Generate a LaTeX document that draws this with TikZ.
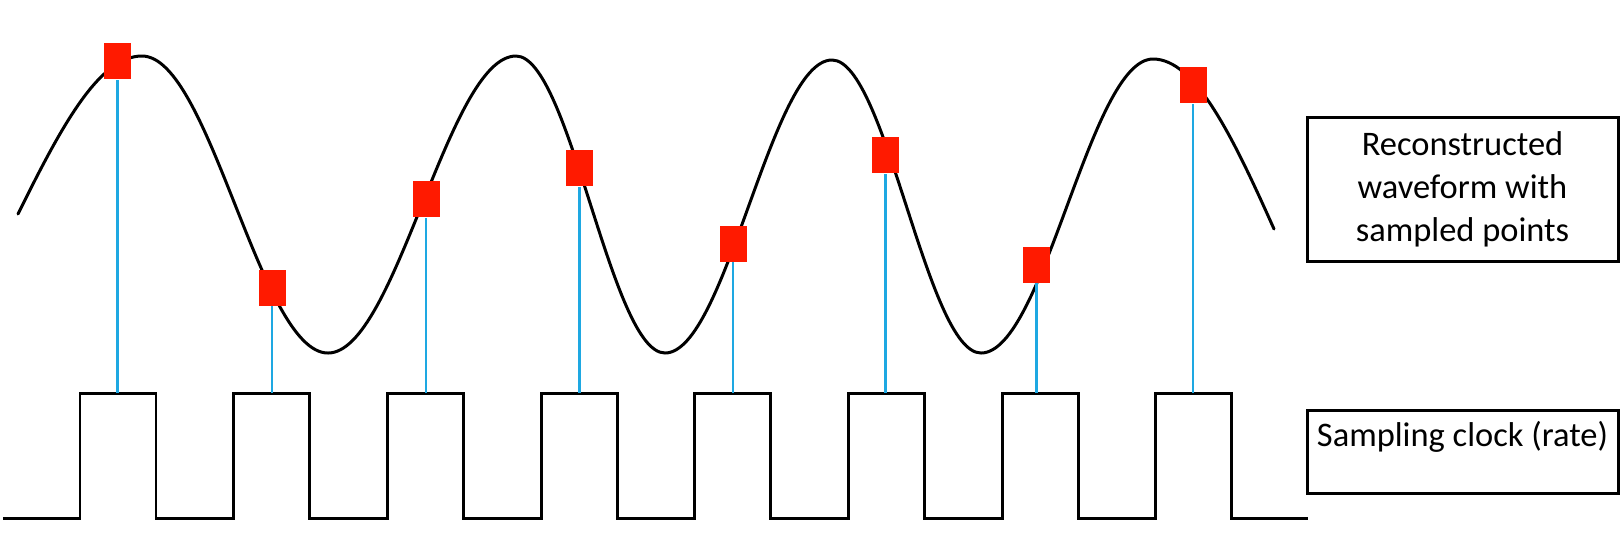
\documentclass[tikz,border=0pt]{standalone}
\usepackage{fontspec}
\setmainfont{Carlito}
\definecolor{samplered}{RGB}{255,26,0}
\definecolor{stemblue}{RGB}{30,168,226}

\begin{document}
\begin{tikzpicture}[x=0.1mm,y=-0.1mm]
	\tikzstyle{wave}=[line width=0.85pt, line cap=round]
	\tikzstyle{clock}=[line width=0.85pt, line join=miter]
	\tikzstyle{stem}=[stemblue, line width=0.8pt]
	\tikzstyle{samplebox}=[fill=samplered, minimum width=2.7mm, minimum height=3.6mm, inner sep=0pt]
	\tikzstyle{labelbox}=[draw, line width=0.85pt, minimum width=31.1mm, inner sep=0pt,
		font=\fontsize{9.8}{12.2}\selectfont, align=center]
	\useasboundingbox (0,0) rectangle (1624,544);
	\draw[wave] (18,214)
		.. controls +(43,-87) and +(-43,0) .. (142,56)
		.. controls +(68,0) and +(-68,0) .. (328,353)
		.. controls +(68,0) and +(-68,0) .. (516,56)
		.. controls +(54,0) and +(-54,0) .. (665,353)
		.. controls +(61,0) and +(-61,0) .. (832,60)
		.. controls +(54,0) and +(-54,0) .. (981,353)
		.. controls +(63,0) and +(-63,0) .. (1153,59)
		.. controls +(42,0) and +(-42,-94) .. (1274,229);
	\draw[clock] (3,518)
		\foreach \k in {0,...,7} {
			-- ({80+153.7*\k},518) -- ({80+153.7*\k},393)
			-- ({156+153.7*\k},393) -- ({156+153.7*\k},518)
		} -- (1308,518);
	\foreach \x/\y [count=\i] in {117.5/61, 272/287.5, 426/199, 579.5/168,
			733/243.5, 885.5/155, 1036.5/264.5, 1193/85} {
		\node[samplebox] (s\i) at (\x,\y) {};
		\coordinate (t\i) at (\x,393);
		\draw[stem] (t\i) -- (s\i);
	}
	\node[labelbox, minimum height=14.4mm] (wavelabel) at (1462.5,189)
		{Reconstructed\\waveform with\\sampled points};
	\node[labelbox, anchor=north, inner ysep=1mm, text height=2.6mm, text depth=3.7mm]
		(clocklabel) at (1462.5,409) {Sampling clock (rate)};
\end{tikzpicture}
\end{document}
